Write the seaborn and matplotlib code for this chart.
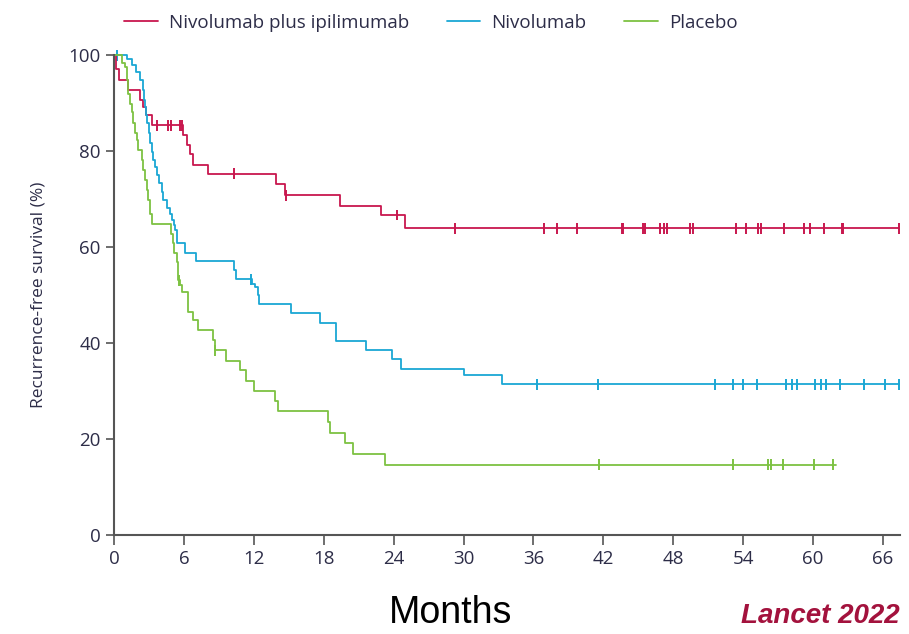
import numpy as np
import pandas as pd
import matplotlib
matplotlib.use("Agg")
import matplotlib.pyplot as plt
import seaborn as sns

# Kaplan-Meier steps (months, % recurrence-free)
arms = ["Nivolumab plus ipilimumab", "Nivolumab", "Placebo"]
colors = ["#c8174e", "#1aa7d4", "#7dc242"]

combo_t = [0, 0.15, 0.4, 1.2, 2.2, 2.5, 2.75, 3.3, 5.95, 6.24, 6.52, 6.75, 8.1,
           13.9, 14.7, 19.4, 22.9, 25.0, 67.4]
combo_s = [100, 97.2, 94.8, 92.7, 90.6, 89.2, 87.5, 85.4, 83.4, 81.3, 79.4, 77.2, 75.3,
           73.1, 70.8, 68.5, 66.7, 63.9, 63.9]
combo_cens = [3.66, 4.66, 4.86, 5.67, 5.81, 10.3, 14.75, 24.3, 29.3, 36.9, 38.05, 39.7,
              43.6, 43.7, 45.4, 45.6, 46.9, 47.2, 47.5, 49.4, 49.7, 53.4, 54.25, 55.3,
              55.5, 57.5, 59.2, 59.7, 60.9, 62.5, 62.6, 67.4]

nivo_t = [0, 1.09, 1.52, 1.89, 2.23, 2.52, 2.58, 2.66, 2.75, 2.86, 3.0, 3.09, 3.23,
          3.38, 3.52, 3.66, 3.89, 4.09, 4.23, 4.52, 4.81, 5.0, 5.14, 5.24, 5.37, 6.08,
          7.0, 10.31, 10.51, 11.88, 12.08, 12.37, 12.45, 15.17, 17.65, 19.02, 21.65,
          23.88, 24.65, 30.0, 33.3, 67.4]
nivo_s = [100, 99.3, 97.9, 96.5, 94.8, 92.7, 90.6, 89.2, 87.5, 85.8, 83.7, 81.6, 79.9,
          78.1, 76.7, 75.0, 73.3, 71.5, 69.8, 68.1, 67.0, 65.6, 64.6, 63.5, 60.8, 58.7,
          57.2, 55.2, 53.3, 52.4, 51.6, 50.0, 48.1, 46.2, 44.2, 40.5, 38.5,
          36.6, 34.7, 33.3, 31.4, 31.4]
nivo_cens = [0.3, 11.8, 36.3, 41.5, 51.6, 53.1, 54.0, 55.2, 57.7, 58.2, 58.6, 60.2,
             60.7, 61.1, 62.3, 64.4, 66.2, 67.4]

plac_t = [0, 0.66, 0.94, 1.09, 1.23, 1.37, 1.52, 1.66, 1.80, 1.95, 2.09, 2.37, 2.52,
          2.66, 2.80, 2.95, 3.09, 3.23, 4.86, 5.03, 5.14, 5.37, 5.51, 5.70, 5.88, 6.37,
          6.74, 7.23, 8.51, 8.65, 9.65, 10.8, 11.37, 12.0, 13.8, 14.08, 18.4, 18.57,
          19.8, 20.5, 23.3, 62.0]
plac_s = [100, 98.3, 97.6, 94.8, 92.0, 89.9, 88.2, 85.8, 83.7, 82.3, 80.2, 78.1, 76.0,
          74.0, 71.9, 69.8, 67.0, 64.9, 62.8, 60.8, 58.7, 56.9, 53.1, 52.1, 50.7, 46.5,
          44.8, 42.8, 40.6, 38.5, 36.3, 34.4, 32.1, 30.0, 27.9, 25.8, 23.6, 21.2,
          19.2, 17.0, 14.7, 14.7]
plac_cens = [5.6, 8.7, 41.6, 53.1, 56.1, 56.4, 57.4, 60.1, 61.7]

x_ticks = list(range(0, 67, 6))
y_ticks = [0, 20, 40, 60, 80, 100]

steps = pd.concat([
    pd.DataFrame({"arm": a, "months": t, "rfs": s})
    for a, t, s in zip(arms, [combo_t, nivo_t, plac_t], [combo_s, nivo_s, plac_s])
])


def surv_at(times, surv, x):
    idx = np.searchsorted(times, x, side="right") - 1
    return np.asarray(surv)[idx]


cens = pd.concat([
    pd.DataFrame({"arm": a, "months": c, "rfs": surv_at(t, s, c)})
    for a, t, s, c in zip(arms, [combo_t, nivo_t, plac_t], [combo_s, nivo_s, plac_s],
                          [combo_cens, nivo_cens, plac_cens])
])

sns.set_style("ticks")
plt.rcParams["font.family"] = ["Open Sans", "DejaVu Sans"]
text_col = "#2d2d48"
palette = dict(zip(arms, colors))

fig = plt.figure(figsize=(9.09, 6.34), dpi=100)
ax = fig.add_axes([0.1254, 0.156, 0.8652, 0.757])

sns.lineplot(data=steps, x="months", y="rfs", hue="arm", palette=palette,
             drawstyle="steps-post", estimator=None, sort=False, linewidth=1.3,
             ax=ax, legend=True, clip_on=False)
sns.scatterplot(data=cens, x="months", y="rfs", hue="arm", palette=palette,
                marker="|", s=60, linewidth=1.4, ax=ax, legend=False, clip_on=False)

ax.set_xlim(0, 67.5)
ax.set_ylim(0, 100)
ax.set_xticks(x_ticks)
ax.set_yticks(y_ticks)
ax.set_xlabel("")
ax.set_ylabel("Recurrence-free survival (%)", fontsize=12.5, color=text_col, labelpad=16)
ax.tick_params(axis="both", colors="#555555", labelcolor=text_col, width=1.2,
               labelsize=13.5, length=6)
ax.tick_params(axis="x", length=7, pad=4)
sns.despine(ax=ax)
for sp in ["left", "bottom"]:
    ax.spines[sp].set_color("#555555")
    ax.spines[sp].set_linewidth(1.5)

handles, labels = ax.get_legend_handles_labels()
ax.legend_.remove()
fig.legend(handles, labels, loc="upper center", bbox_to_anchor=(0.474, 1.005), ncol=3,
           frameon=False, fontsize=13.5, handlelength=1.8, columnspacing=2.0,
           handletextpad=0.6, labelcolor=text_col)

fig.text(0.496, 0.018, "Months", fontsize=27, family="Liberation Sans",
         ha="center", va="baseline", color="black")
fig.text(0.815, 0.018, "Lancet 2022", fontsize=20, family="Liberation Sans",
         weight="bold", style="italic", color="#a3123d", ha="left", va="baseline")

fig.savefig("out.png", dpi=100)
